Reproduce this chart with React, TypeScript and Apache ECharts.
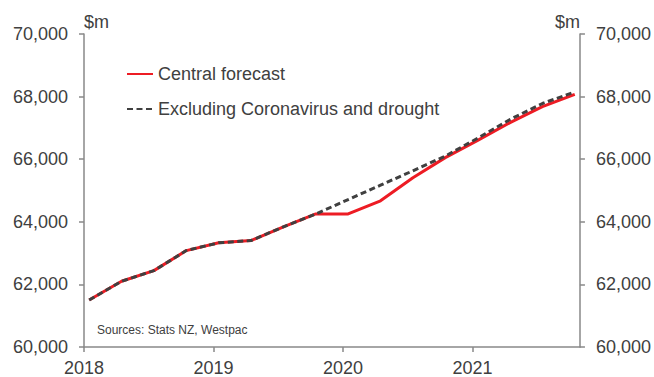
import React, { useEffect, useRef } from "react";
import * as echarts from "echarts";

// Quarterly observation positions, in decimal years
const xPositions = [
  2018.04, 2018.29, 2018.54, 2018.79,
  2019.04, 2019.29, 2019.54, 2019.79,
  2020.04, 2020.29, 2020.54, 2020.79,
  2021.04, 2021.29, 2021.54, 2021.79,
];

// $m
const centralForecast = [
  61500, 62100, 62440, 63080,
  63330, 63400, 63840, 64250,
  64250, 64670, 65410, 66050,
  66600, 67170, 67680, 68070,
];

const excludingCovidDrought = [
  61500, 62100, 62440, 63080,
  63330, 63400, 63840, 64250,
  64710, 65170, 65630, 66100,
  66670, 67270, 67780, 68150,
];

const yearTicks = [2018, 2019, 2020, 2021];
const seriesNames = ["Central forecast", "Excluding Coronavirus and drought"];
const unitLabel = "$m";
const sourceNote = "Sources: Stats NZ, Westpac";

const FONT = "Arial, 'Liberation Sans', sans-serif";
const TEXT = "#404040";
const AXIS = "#898989";

export default function App() {
  const ref = useRef<HTMLDivElement>(null);

  useEffect(() => {
    if (!ref.current) return;
    const chart = echarts.init(ref.current, undefined, { renderer: "svg" });

    const yAxisCommon = (pos: "left" | "right") => ({
      type: "value" as const,
      position: pos,
      min: 60000,
      max: 70000,
      interval: 2000,
      name: unitLabel,
      nameLocation: "end" as const,
      nameGap: 3,
      nameTextStyle: {
        fontFamily: FONT,
        fontSize: 18,
        color: TEXT,
        align: pos === "left" ? "left" : "right",
      },
      axisLine: { show: true, lineStyle: { color: AXIS, width: 1.5 } },
      axisTick: { show: true, length: 5, lineStyle: { color: AXIS, width: 1.5 } },
      axisLabel: {
        margin: 16,
        fontFamily: FONT,
        fontSize: 18,
        color: TEXT,
        formatter: (v: number) => v.toLocaleString("en-US"),
      },
      splitLine: { show: false },
    });

    chart.setOption({
      animation: false,
      backgroundColor: "#ffffff",
      textStyle: { fontFamily: FONT },
      grid: { left: 84, right: 73, top: 34, bottom: 28, containLabel: false },
      legend: {
        orient: "vertical",
        left: 126,
        top: 64,
        padding: 0,
        itemWidth: 26,
        itemHeight: 14,
        itemGap: 15,
        itemStyle: { opacity: 0 },
        textStyle: { fontFamily: FONT, fontSize: 18, color: TEXT, lineHeight: 20 },
        data: seriesNames,
      },
      xAxis: {
        type: "value",
        min: 2018,
        max: 2021.83,
        interval: 1,
        axisLine: { show: true, onZero: false, lineStyle: { color: AXIS, width: 1.5 } },
        axisTick: {
          show: true,
          length: 5,
          customValues: yearTicks,
          lineStyle: { color: AXIS, width: 1.5 },
        },
        axisLabel: {
          margin: 12,
          fontFamily: FONT,
          fontSize: 18,
          color: TEXT,
          customValues: yearTicks,
          formatter: (v: number) => String(Math.round(v)),
        },
        splitLine: { show: false },
      },
      yAxis: [yAxisCommon("left"), yAxisCommon("right")],
      graphic: [
        {
          type: "text",
          left: 97,
          top: 324,
          style: { text: sourceNote, fontFamily: FONT, fontSize: 12, fill: TEXT },
        },
      ],
      series: [
        {
          name: seriesNames[0],
          type: "line",
          yAxisIndex: 0,
          symbol: "none",
          data: xPositions.map((x, i) => [x, centralForecast[i]]),
          lineStyle: { color: "#ed1c24", width: 3 },
          itemStyle: { color: "#ed1c24" },
          z: 2,
        },
        {
          name: seriesNames[1],
          type: "line",
          yAxisIndex: 0,
          symbol: "none",
          data: xPositions.map((x, i) => [x, excludingCovidDrought[i]]),
          lineStyle: { color: "#404040", width: 3, type: [6, 3.5] },
          itemStyle: { color: "#404040" },
          z: 3,
        },
      ],
    });

    return () => chart.dispose();
  }, []);

  return (
    <div
      ref={ref}
      style={{ position: "fixed", left: 0, top: 0, width: 654, height: 377 }}
    />
  );
}
